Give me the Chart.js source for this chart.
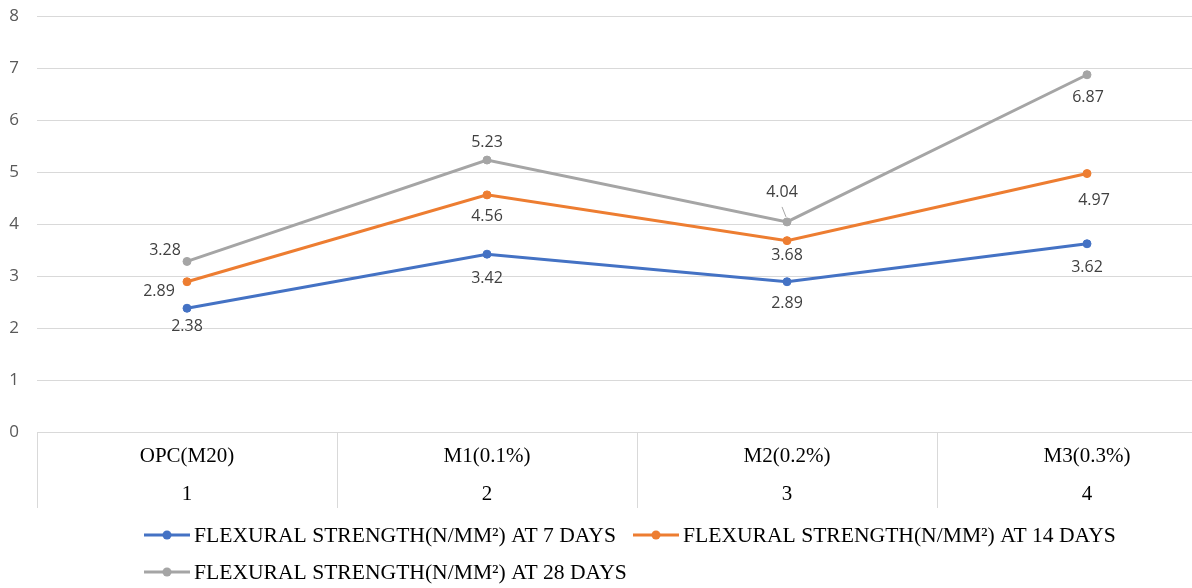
<!DOCTYPE html>
<html>
<head>
<meta charset="utf-8">
<script src="https://cdn.jsdelivr.net/npm/chart.js@4"></script>
<style>
  html, body { margin: 0; padding: 0; background: #fff; overflow: hidden; }
  #wrap { width: 1192px; height: 588px; overflow: hidden; }
</style>
</head>
<body>
<div id="wrap"><canvas id="flexChart" width="1260" height="588"></canvas></div>
<script>
// data
const mixNames = ['OPC(M20)', 'M1(0.1%)', 'M2(0.2%)', 'M3(0.3%)'];
const mixNumbers = ['1', '2', '3', '4'];
const day7 = [2.38, 3.42, 2.89, 3.62];
const day14 = [2.89, 4.56, 3.68, 4.97];
const day28 = [3.28, 5.23, 4.04, 6.87];
const yTicks = [0, 1, 2, 3, 4, 5, 6, 7, 8];

const seriesNames = [
    'FLEXURAL STRENGTH(N/MM\u00B2) AT 7 DAYS',
    'FLEXURAL STRENGTH(N/MM\u00B2) AT 14 DAYS',
    'FLEXURAL STRENGTH(N/MM\u00B2) AT 28 DAYS'
];
const seriesColors = ['#4472C4', '#ED7D31', '#A5A5A5'];

// where each value label sits relative to its point (dx, dy)
const labelShift = [
    [[0, 18], [0, 24], [0, 22], [0, 24]],
    [[-28, 10], [0, 22], [0, 15], [7, 27]],
    [[-22, -11], [0, -18], [-5, -29], [1, 23]]
];

const serif = '"Liberation Serif", "Times New Roman", serif';
const sans = '"Open Sans", "Noto Sans", sans-serif';

const valueLabels = {
    id: 'valueLabels',
    afterDatasetsDraw(chart) {
        const ctx = chart.ctx;
        ctx.save();
        ctx.font = '16px ' + sans;
        ctx.fillStyle = '#404040';
        ctx.textAlign = 'center';
        ctx.textBaseline = 'middle';
        chart.data.datasets.forEach((ds, d) => {
            const meta = chart.getDatasetMeta(d);
            meta.data.forEach((pt, i) => {
                const s = labelShift[d][i];
                ctx.fillText(ds.data[i].toFixed(2), pt.x + s[0], pt.y + s[1]);
            });
        });
        // small leader line under 4.04
        const p = chart.getDatasetMeta(2).data[2];
        ctx.strokeStyle = '#a6a6a6';
        ctx.lineWidth = 1;
        ctx.beginPath();
        ctx.moveTo(p.x - 5, p.y - 15);
        ctx.lineTo(p.x - 1, p.y - 5);
        ctx.stroke();
        ctx.restore();
    }
};

const gridLegend = {
    id: 'gridLegend',
    afterDraw(chart) {
        const ctx = chart.ctx;
        const spots = [[144, 535], [633, 535], [144, 572]];
        ctx.save();
        chart.data.datasets.forEach((ds, d) => {
            const [x, y] = spots[d];
            ctx.strokeStyle = ds.borderColor;
            ctx.lineWidth = 3;
            ctx.beginPath();
            ctx.moveTo(x, y);
            ctx.lineTo(x + 46, y);
            ctx.stroke();
            ctx.fillStyle = ds.borderColor;
            ctx.beginPath();
            ctx.arc(x + 23, y, 4.5, 0, Math.PI * 2);
            ctx.fill();
            ctx.fillStyle = '#000';
            ctx.font = '21.6px ' + serif;
            ctx.textAlign = 'left';
            ctx.textBaseline = 'middle';
            ctx.fillText(ds.label, x + 50, y + 1);
        });
        ctx.restore();
    }
};

function makeSet(label, values, color) {
    return {
        label: label,
        data: values,
        borderColor: color,
        backgroundColor: color,
        pointBackgroundColor: color,
        pointBorderColor: color,
        borderWidth: 3,
        pointRadius: 4,
        pointBorderWidth: 1,
        tension: 0
    };
}

new Chart(document.getElementById('flexChart'), {
    type: 'line',
    data: {
        labels: mixNames.map((n, i) => [n, mixNumbers[i]]),
        datasets: [
            makeSet(seriesNames[0], day7, seriesColors[0]),
            makeSet(seriesNames[1], day14, seriesColors[1]),
            makeSet(seriesNames[2], day28, seriesColors[2])
        ]
    },
    options: {
        responsive: false,
        animation: false,
        layout: { padding: { top: 16, right: 23, left: 0, bottom: 0 } },
        plugins: {
            legend: { display: false },
            tooltip: { enabled: false }
        },
        scales: {
            x: {
                offset: true,
                grid: {
                    offset: true,
                    drawOnChartArea: false,
                    drawTicks: true,
                    tickLength: 76,
                    color: '#d9d9d9'
                },
                border: { display: false },
                ticks: {
                    color: '#000',
                    padding: -70,
                    maxRotation: 0,
                    font: { family: serif, size: 21, lineHeight: 1.8 }
                },
                afterFit(scale) { scale.height = 156; }
            },
            y: {
                min: 0,
                max: 8,
                afterBuildTicks(scale) {
                    scale.ticks = yTicks.map(v => ({ value: v }));
                },
                grid: { color: '#d9d9d9', drawTicks: false },
                border: { display: false },
                ticks: {
                    color: '#595959',
                    padding: 18,
                    font: { family: sans, size: 17 }
                },
                afterFit(scale) {
                    scale.width = 37;
                    scale.paddingTop = 0;
                    scale.paddingBottom = 0;
                }
            }
        }
    },
    plugins: [valueLabels, gridLegend]
});
</script>
</body>
</html>
